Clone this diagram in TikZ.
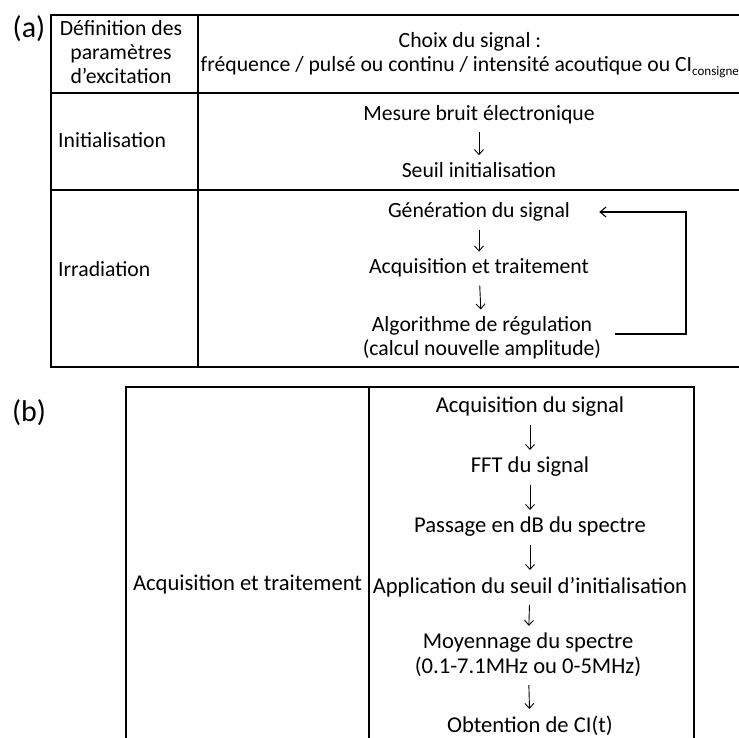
\documentclass[tikz,border=0pt]{standalone}
\usepackage{fontspec}
\setmainfont{Carlito}
\usetikzlibrary{arrows.meta}
\begin{document}
\begin{tikzpicture}[x=1pt,y=-1pt,
  txt/.style={inner sep=0pt,font=\fontsize{21.7}{24}\selectfont},
  txtb/.style={inner sep=0pt,font=\fontsize{22.6}{25}\selectfont},
  lab/.style={inner sep=0pt,font=\fontsize{30}{30}\selectfont},
  grid/.style={line width=1.6pt,line cap=rect},
  darr/.style={line width=0.9pt,-{Straight Barb[length=5pt,width=9pt,line width=0.9pt]},shorten <=8pt,shorten >=7pt},
  fb/.style={line width=1.1pt,-{Straight Barb[length=6pt,width=10pt,line width=1.1pt]}}]
\useasboundingbox (0,0) rectangle (739,738);
% ---------- (a) ----------
\node[lab] (la) at (29,29) {(a)};
\draw[grid] (51,15) rectangle (745,367);
\draw[grid] (198,15) -- (198,367);
\draw[grid] (51,93) -- (745,93);
\draw[grid] (51,190) -- (745,190);
% row 1
\node[txt,align=center] (def) at (121,52) {Définition des\\paramètres\\d’excitation};
\node[txt] (choix) at (470,42) {Choix du signal :};
\node[txt,anchor=west] (freq) at (200.5,67) {fréquence / pulsé ou continu / intensité acoutique ou CI\raisebox{-4pt}{\fontsize{13}{13}\selectfont consigne}};
% row 2
\node[txt,anchor=west] (init) at (58,140) {Initialisation};
\node[txt] (mes) at (479,115) {Mesure bruit électronique};
\node[txt] (seuil) at (479,170) {Seuil initialisation};
\draw[darr] (mes) -- (seuil);
% row 3
\node[txt,anchor=west] (irr) at (58,269) {Irradiation};
\node[txt] (gen) at (479,212) {Génération du signal};
\node[txt] (acq) at (479,268) {Acquisition et traitement};
\node[txt,align=center] (algo) at (482,338) {Algorithme de régulation\\(calcul nouvelle amplitude)};
\draw[darr] (gen.south -| acq) -- (acq);
\draw[darr] (acq) -- (algo);
\coordinate (fbc) at (686,273);
\draw[fb,shorten <=14pt,shorten >=29pt] ([yshift=4pt]algo.east) -| (fbc) |- (gen.east);
% ---------- (b) ----------
\node[lab] (lb) at (29,413) {(b)};
\draw[grid] (126,387) rectangle (694,760);
\draw[grid] (369,387) -- (369,760);
\node[txtb] (at) at (247.5,585) {Acquisition et traitement};
\node[txtb] (b1) at (530,407) {Acquisition du signal};
\node[txtb] (b2) at (530,467) {FFT du signal};
\node[txtb] (b3) at (530,527) {Passage en dB du spectre};
\node[txtb] (b4) at (530,587) {Application du seuil d’initialisation};
\node[txtb,align=center] (b5) at (528,655) {Moyennage du spectre\\(0.1-7.1MHz ou 0-5MHz)};
\node[txtb] (b6) at (530,726) {Obtention de CI(t)};
\draw[darr] (b1) -- (b2);
\draw[darr] (b2) -- (b3);
\draw[darr] (b3) -- (b4);
\draw[darr] (b4) -- (b5);
\draw[darr] (b5) -- (b6);
\end{tikzpicture}
\end{document}
